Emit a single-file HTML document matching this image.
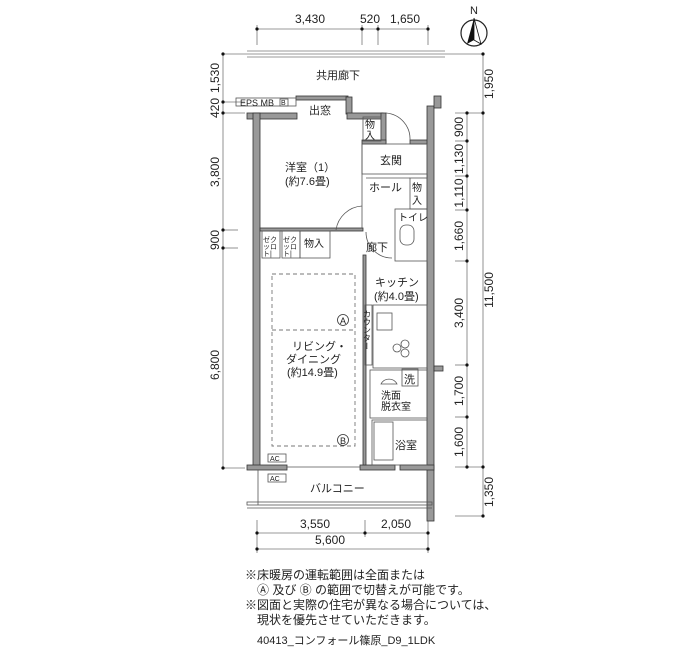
<!DOCTYPE html>
<html><head><meta charset="utf-8"><style>
html,body{margin:0;padding:0;background:#fff;}
svg{display:block}
text{font-family:"Liberation Sans","Noto Sans CJK JP",sans-serif;fill:#222}
</style></head><body>
<svg width="700" height="650" viewBox="0 0 700 650" xmlns="http://www.w3.org/2000/svg">
<g stroke="#777" stroke-width="0.8" fill="none">
<line x1="257" y1="29" x2="429" y2="29"/>
<line x1="257" y1="25" x2="257" y2="45"/><line x1="362" y1="25" x2="362" y2="45"/><line x1="378" y1="25" x2="378" y2="45"/><line x1="428" y1="25" x2="428" y2="45"/>
<line x1="247" y1="51" x2="445" y2="51"/><line x1="247" y1="54" x2="445" y2="54"/><line x1="247" y1="57" x2="445" y2="57"/>
<line x1="223" y1="54" x2="223" y2="468"/>
<line x1="223" y1="54" x2="247" y2="54"/><line x1="223" y1="102" x2="245" y2="102"/><line x1="223" y1="113" x2="245" y2="113"/><line x1="223" y1="230" x2="238" y2="230"/><line x1="223" y1="248" x2="238" y2="248"/><line x1="223" y1="468" x2="245" y2="468"/>
<line x1="467" y1="113" x2="467" y2="467"/><line x1="483" y1="54" x2="483" y2="516"/>
<line x1="445" y1="54" x2="483" y2="54"/><line x1="455" y1="113" x2="483" y2="113"/>
<line x1="455" y1="141" x2="467" y2="141"/><line x1="455" y1="176" x2="467" y2="176"/><line x1="455" y1="210" x2="467" y2="210"/><line x1="455" y1="261" x2="467" y2="261"/><line x1="455" y1="365" x2="467" y2="365"/><line x1="455" y1="417" x2="467" y2="417"/><line x1="455" y1="467" x2="483" y2="467"/><line x1="455" y1="516" x2="483" y2="516"/>
<line x1="257" y1="533" x2="428" y2="533"/><line x1="257" y1="549" x2="428" y2="549"/>
<line x1="257" y1="520" x2="257" y2="553"/><line x1="365" y1="520" x2="365" y2="537"/><line x1="428" y1="520" x2="428" y2="553"/>
</g>
<g fill="#111">
<circle cx="257" cy="29" r="1.6"/><circle cx="362" cy="29" r="1.6"/><circle cx="378" cy="29" r="1.6"/><circle cx="428" cy="29" r="1.6"/>
<circle cx="223" cy="54" r="1.6"/><circle cx="223" cy="102" r="1.6"/><circle cx="223" cy="113" r="1.6"/><circle cx="223" cy="230" r="1.6"/><circle cx="223" cy="248" r="1.6"/><circle cx="223" cy="468" r="1.6"/>
<circle cx="483" cy="54" r="1.6"/><circle cx="483" cy="113" r="1.6"/><circle cx="483" cy="467" r="1.6"/><circle cx="483" cy="516" r="1.6"/>
<circle cx="467" cy="113" r="1.6"/><circle cx="467" cy="141" r="1.6"/><circle cx="467" cy="176" r="1.6"/><circle cx="467" cy="210" r="1.6"/><circle cx="467" cy="261" r="1.6"/><circle cx="467" cy="365" r="1.6"/><circle cx="467" cy="417" r="1.6"/><circle cx="467" cy="467" r="1.6"/>
<circle cx="257" cy="533" r="1.6"/><circle cx="365" cy="533" r="1.6"/><circle cx="428" cy="533" r="1.6"/><circle cx="257" cy="549" r="1.6"/><circle cx="428" cy="549" r="1.6"/>
</g>
<circle cx="474" cy="33" r="13" fill="none" stroke="#222" stroke-width="1.2"/>
<polygon points="474,18 467,44 474,40" fill="#111"/><polygon points="474,18 481,44 474,40" fill="#fff" stroke="#111" stroke-width="0.8"/>
<text x="474" y="14" font-size="11" text-anchor="middle">N</text>
<g font-size="12" text-anchor="middle">
<text x="310" y="23">3,430</text><text x="370" y="23">520</text><text x="405" y="23">1,650</text>
<text x="315" y="528">3,550</text><text x="396" y="528">2,050</text><text x="330" y="544">5,600</text>
</g>
<g font-size="12" text-anchor="middle">
<text transform="translate(219,78) rotate(-90)">1,530</text>
<text transform="translate(219,108) rotate(-90)">420</text>
<text transform="translate(219,172) rotate(-90)">3,800</text>
<text transform="translate(219,240) rotate(-90)">900</text>
<text transform="translate(219,365) rotate(-90)">6,800</text>
<text transform="translate(493,84) rotate(-90)">1,950</text>
<text transform="translate(493,290) rotate(-90)">11,500</text>
<text transform="translate(493,492) rotate(-90)">1,350</text>
<text transform="translate(463,127) rotate(-90)">900</text>
<text transform="translate(463,159) rotate(-90)">1,130</text>
<text transform="translate(463,193) rotate(-90)">1,110</text>
<text transform="translate(463,236) rotate(-90)">1,660</text>
<text transform="translate(463,313) rotate(-90)">3,400</text>
<text transform="translate(463,391) rotate(-90)">1,700</text>
<text transform="translate(463,442) rotate(-90)">1,600</text>
</g>
<g fill="#999" stroke="#333" stroke-width="0.8">
<rect x="247" y="113" width="50" height="6"/>
<rect x="253" y="113" width="7" height="355"/>
<rect x="296" y="96" width="52" height="4"/>
<rect x="346" y="97" width="6" height="17"/>
<rect x="347" y="113" width="36" height="6"/>
<rect x="381" y="113" width="5" height="30"/>
<rect x="362" y="140" width="24" height="4"/>
<rect x="410" y="140" width="20" height="4"/>
<rect x="427" y="106" width="7" height="415"/>
<rect x="434" y="96" width="7" height="12"/>
<rect x="247" y="465" width="40" height="5"/>
<rect x="360" y="465" width="35" height="5"/>
<rect x="400" y="465" width="34" height="5"/>
<rect x="363" y="255" width="3" height="210"/>
<rect x="260" y="228" width="103" height="3"/>
<rect x="434" y="366" width="9" height="5"/>
</g>
<g stroke="#555" stroke-width="0.8" fill="none">
<rect x="362" y="144" width="65" height="30"/>
<line x1="362" y1="144" x2="362" y2="228"/>
<rect x="410" y="178" width="17" height="31"/>
<line x1="366" y1="178" x2="410" y2="178"/>
<rect x="395" y="209" width="32" height="52"/>
<rect x="400" y="225" width="14" height="20" rx="6"/>
<rect x="363" y="117" width="18" height="24"/>
<path d="M386 113 A26 26 0 0 1 410 140"/>
<path d="M362 206 A28 28 0 0 0 336 230"/>
<path d="M366 232 A26 26 0 0 0 392 258"/>
<rect x="262" y="231" width="18" height="27"/><rect x="282" y="231" width="18" height="27"/><rect x="300" y="231" width="30" height="27"/>
<rect x="373" y="305" width="54" height="63"/>
<rect x="377" y="313" width="15" height="17"/>
<circle cx="397" cy="348" r="4"/><circle cx="405" cy="344" r="4"/><circle cx="405" cy="353" r="4"/>
<rect x="365" y="305" width="7" height="60"/>
<rect x="370" y="370" width="57" height="48"/>
<rect x="402" y="369" width="16" height="17"/>
<path d="M381 384 A9 9 0 0 1 397 384 Z"/>
<rect x="372" y="420" width="55" height="45"/>
<rect x="374" y="422" width="19" height="38"/>
<rect x="268" y="454" width="18" height="8"/><rect x="268" y="474" width="18" height="8"/>
<line x1="258" y1="470" x2="258" y2="505"/>
<rect x="247" y="502" width="185" height="3"/><line x1="247" y1="508" x2="432" y2="508"/>
<line x1="287" y1="467" x2="360" y2="467"/>
<rect x="236" y="98" width="60" height="8"/>
<rect x="280" y="99" width="8" height="7"/>
</g>
<g stroke="#777" stroke-width="0.9" stroke-dasharray="4,3" fill="none">
<rect x="272" y="274" width="83" height="172"/><line x1="272" y1="330" x2="355" y2="330"/>
</g>
<g stroke="#333" fill="#fff" stroke-width="0.8"><circle cx="343" cy="320" r="5.5"/><circle cx="343" cy="440" r="5.5"/></g>
<text x="343" y="324" font-size="9" text-anchor="middle">A</text><text x="343" y="444" font-size="9" text-anchor="middle">B</text>
<g font-size="11">
<text x="316" y="79">共用廊下</text>
<text x="240" y="106" font-size="9">EPS MB</text><text x="281" y="105" font-size="7">B</text>
<text x="309" y="114">出窓</text>
<text x="365" y="128" font-size="10">物</text><text x="365" y="139" font-size="10">入</text>
<text x="380" y="164">玄関</text>
<text x="369" y="191">ホール</text>
<text x="412" y="191" font-size="10">物</text><text x="412" y="204" font-size="10">入</text>
<text x="398" y="221" font-size="10">トイレ</text>
<text x="366" y="251">廊下</text>
<text x="285" y="171">洋室（1）</text>
<text x="285" y="185">(約7.6畳)</text>
<text x="304" y="247" font-size="10">物入</text>
<text x="263" y="242" font-size="7">ゼク</text><text x="263" y="249" font-size="7">ッロ</text><text x="263" y="256" font-size="7">ト|</text>
<text x="283" y="242" font-size="7">ゼク</text><text x="283" y="249" font-size="7">ッロ</text><text x="283" y="256" font-size="7">ト|</text>
<text x="375" y="286">キッチン</text>
<text x="374" y="300">(約4.0畳)</text>
<text x="292" y="350">リビング・</text>
<text x="286" y="363">ダイニング</text>
<text x="287" y="376">(約14.9畳)</text>
<text x="404" y="383">洗</text>
<text x="381" y="399" font-size="10">洗面</text><text x="381" y="410" font-size="10">脱衣室</text>
<text x="395" y="449">浴室</text>
<text x="270" y="461" font-size="7">AC</text><text x="270" y="481" font-size="7">AC</text>
<text x="310" y="492">バルコニー</text>
<text x="367" y="310" font-size="8" writing-mode="tb">カウンター</text>
</g>
<g font-size="12">
<text x="245" y="579">※床暖房の運転範囲は全面または</text>
<text x="257" y="594">Ⓐ 及び Ⓑ の範囲で切替えが可能です。</text>
<text x="245" y="609">※図面と実際の住宅が異なる場合については、</text>
<text x="257" y="624">現状を優先させていただきます。</text>
<text x="257" y="644" font-size="11">40413_コンフォール篠原_D9_1LDK</text>
</g>
</svg>
</body></html>
